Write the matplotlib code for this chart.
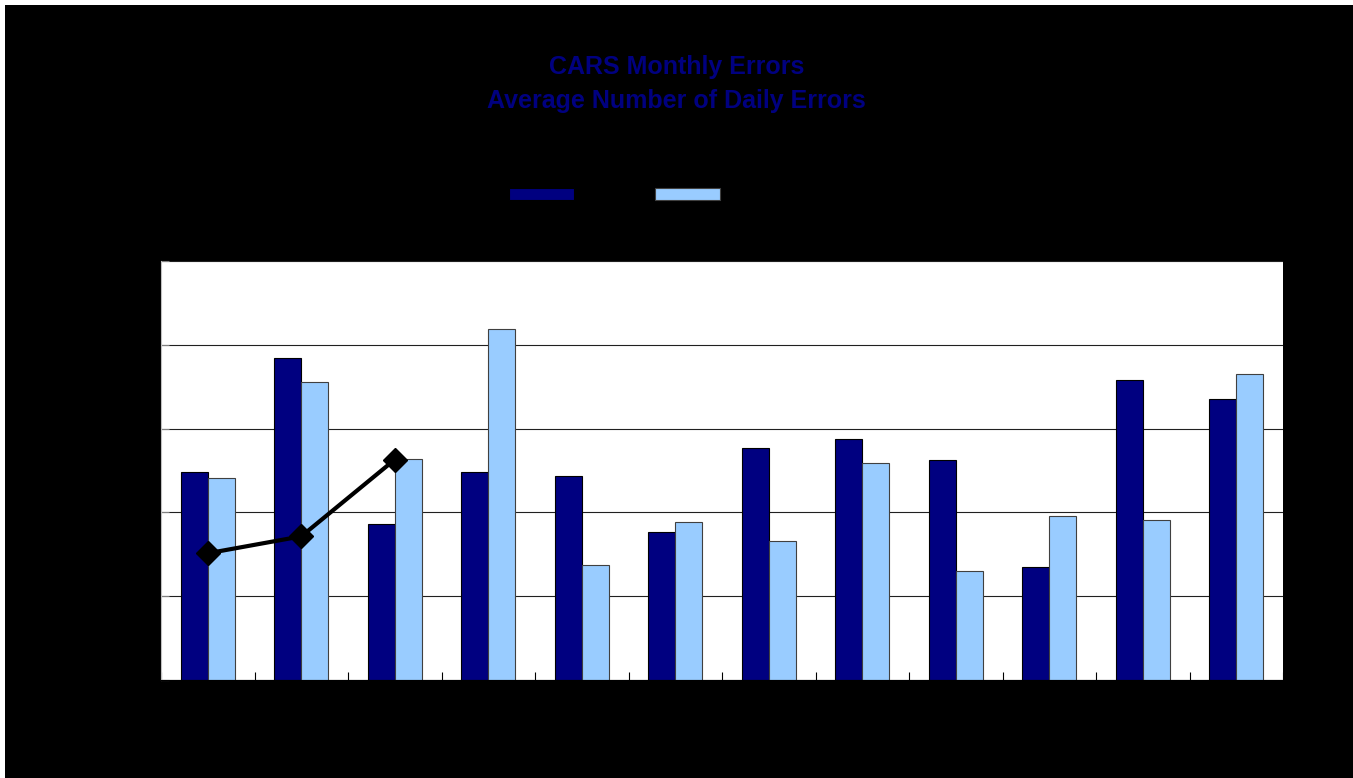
import numpy as np
import matplotlib.pyplot as plt
from matplotlib.patches import Rectangle

months = ['Jan', 'Feb', 'Mar', 'Apr', 'May', 'Jun',
          'Jul', 'Aug', 'Sep', 'Oct', 'Nov', 'Dec']
errors_2006 = [124.4, 192.3, 92.9, 124.4, 122.0, 88.1,
               138.7, 144.0, 131.5, 67.3, 179.2, 167.9]
errors_2007 = [120.8, 178.0, 132.1, 209.5, 68.5, 94.0,
               82.7, 129.2, 64.9, 97.6, 95.2, 182.7]
errors_2008 = [75.6, 85.7, 131.5]
y_ticks = [0, 50, 100, 150, 200, 250]

fig = plt.figure(figsize=(13.53, 7.78), dpi=100, facecolor='white')
# black chart area with a small white margin top/left
fig.patches.append(Rectangle((5 / 1353, 0), 1 - 5 / 1353, 1 - 5 / 778,
                             transform=fig.transFigure, facecolor='black',
                             edgecolor='none', zorder=-5))

ax = fig.add_axes([161 / 1353, 1 - 680 / 778, 1122 / 1353, 419 / 778])
ax.set_facecolor('white')

x = np.arange(len(months))
w = 0.29
ax.bar(x - w / 2, errors_2006, w, color='#000080', edgecolor='black',
       linewidth=0.8, label='2006', zorder=2)
ax.bar(x + w / 2, errors_2007, w, color='#99ccff', edgecolor='#404040',
       linewidth=0.8, label='2007', zorder=2)
ax.plot(x[:len(errors_2008)], errors_2008, color='black', linewidth=3,
        marker='D', markersize=12, label='2008', zorder=3)

ax.set_xlim(-0.5, 11.5)
ax.set_ylim(0, 250)
ax.set_yticks(y_ticks)
ax.yaxis.grid(True, color='#202020', linewidth=0.8, zorder=1)
ax.set_axisbelow(True)
ax.set_xticks(np.arange(-0.5, 12, 1), minor=False)
ax.set_xticklabels([])
ax.set_xticks(x, minor=True)
ax.set_xticklabels(months, minor=True, color='black', fontsize=10)
ax.tick_params(axis='x', which='minor', length=0)
ax.tick_params(axis='x', which='major', direction='in', length=6, color='black')
ax.tick_params(axis='y', direction='in', length=6, color='#808080',
               labelcolor='black', labelsize=10)
for s in ['top', 'right']:
    ax.spines[s].set_visible(False)
ax.spines['left'].set_color('#c0c0c0')
ax.spines['bottom'].set_color('black')

fig.text(0.5, 1 - 67 / 778, 'CARS Monthly Errors', ha='center', va='center',
         color='#000080', fontsize=18, fontweight='bold', family='Liberation Sans')
fig.text(0.5, 1 - 101 / 778, 'Average Number of Daily Errors', ha='center',
         va='center', color='#000080', fontsize=18, fontweight='bold',
         family='Liberation Sans')

fig.legend(loc='center', bbox_to_anchor=(0.5 - 112 / 1353, 1 - 195 / 778),
           ncol=3, frameon=False, fontsize=10, labelcolor='black',
           handlelength=4.7, handleheight=0.95, columnspacing=2.5)

plt.savefig('out.png', dpi=100, facecolor=fig.get_facecolor())
